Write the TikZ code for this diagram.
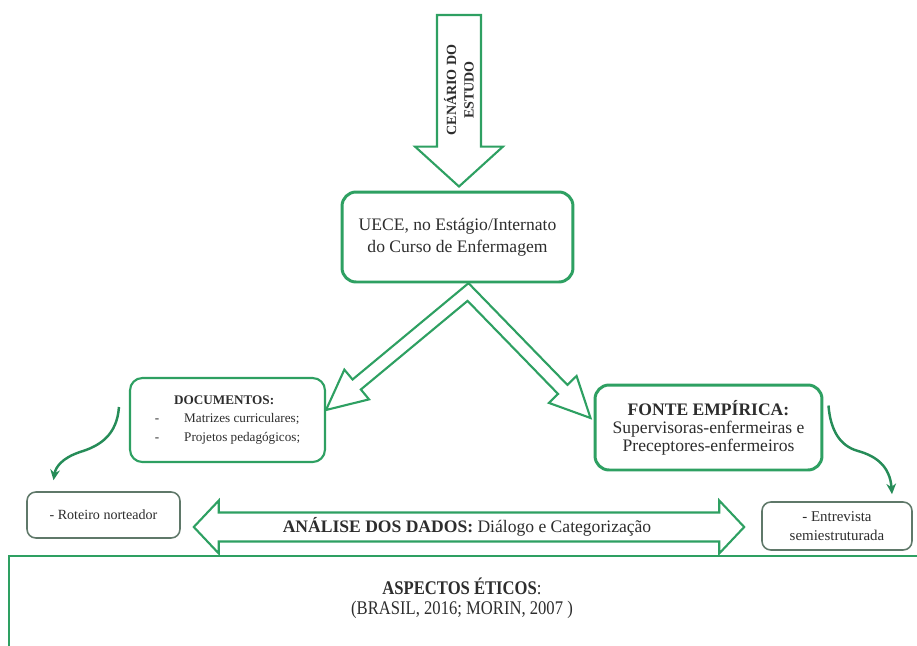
\documentclass[tikz,border=0pt]{standalone}
\usepackage{fontspec}
\setmainfont{Liberation Serif}
\newfontfamily\narrowserif[FakeStretch=0.86]{Liberation Serif}
\usetikzlibrary{calc,arrows.meta}

\definecolor{boxgreen}{RGB}{46,160,98}
\definecolor{darkgreen}{RGB}{38,140,88}
\definecolor{graybox}{RGB}{95,120,105}
\definecolor{txtgray}{RGB}{45,45,45}

% hollow block arrow: tail, tip, shaft half width, head half width, head length
\newcommand{\hollowarrow}[5]{%
  \coordinate (habase) at ($(#2)!#5!(#1)$);
  \draw[block] ($(#1)!#3!90:(#2)$) -- ($(habase)!#3!90:(#2)$) -- ($(habase)!#4!90:(#2)$) -- (#2)
    -- ($(habase)!#4!-90:(#2)$) -- ($(habase)!#3!-90:(#2)$) -- ($(#1)!#3!-90:(#2)$) -- cycle;}

\begin{document}
\begin{tikzpicture}[x=0.02cm,y=-0.02cm,text=txtgray,
  main box/.style={draw=boxgreen,line width=1.7pt,rounded corners=8pt,fill=white,align=center},
  side box/.style={draw=boxgreen,line width=1.2pt,rounded corners=7pt,fill=white,align=left},
  note box/.style={draw=graybox,line width=0.9pt,rounded corners=5pt,fill=white,align=center},
  block/.style={draw=boxgreen,line width=1.2pt,fill=white,line join=miter},
  bend arrow/.style={draw=darkgreen,line width=1.4pt,-{Stealth[length=6pt,width=5.5pt]}}]

  \clip (0,0) rectangle (917,646);

  % boxes
  \node[main box,minimum width=4.62cm,minimum height=1.8cm,font=\fontsize{10}{12.5}\selectfont]
    (uece) at (457.5,237) {UECE, no Estágio/Internato\\do Curso de Enfermagem};
  \node[side box,minimum width=3.9cm,minimum height=1.68cm,font=\fontsize{7.5}{10.5}\selectfont]
    (docs) at (227.5,420) {\hspace*{11pt}\textbf{DOCUMENTOS:}\\
      -\hspace{1.9em}Matrizes curriculares;\\-\hspace{1.9em}Projetos pedagógicos;};
  \node[note box,minimum width=3.06cm,minimum height=0.92cm,font=\fontsize{8}{10}\selectfont]
    (roteiro) at (103.5,515) {- Roteiro norteador};
  \node[main box,minimum width=4.54cm,minimum height=1.7cm,font=\fontsize{10}{10.3}\selectfont]
    (fonte) at (708.5,427.5) {\textbf{FONTE EMPÍRICA:}\\Supervisoras-enfermeiras e\\Preceptores-enfermeiros};
  \node[note box,minimum width=3cm,minimum height=0.96cm,font=\fontsize{8.5}{11}\selectfont]
    (entrev) at (837,526) {- Entrevista\\semiestruturada};

  % top arrow
  \coordinate (cenario) at (459,15);
  \hollowarrow{cenario}{$(uece.north)+(1.5,-4)$}{12.5pt}{25pt}{22.7pt}
  \node[rotate=90,align=center,font=\bfseries\fontsize{8}{10}\selectfont]
    (cenariotxt) at (459,90) {CENÁRIO DO\\ESTUDO};

  % split arrows
  \coordinate (vtop) at ($(uece.south)+(10.5,8.5)$);
  \coordinate (ltip) at ($(docs.east)+(0,-10)$);
  \coordinate (rtip) at ($(fonte.west)+(-3,-9.5)$);
  \foreach \s/\t/\o/\i in {l/ltip/-90/90, r/rtip/90/-90} {
    \coordinate (\s b) at ($(\t)!22.7pt!(vtop)$);
    \coordinate (\s o1) at ($(vtop)!3.7pt!\o:(\t)$);
    \coordinate (\s o2) at ($(\s b)!3.7pt!\o:(\t)$);
    \coordinate (\s ob) at ($(\s b)!11pt!\o:(\t)$);
    \coordinate (\s i1) at ($(vtop)!3.7pt!\i:(\t)$);
    \coordinate (\s i2) at ($(\s b)!3.7pt!\i:(\t)$);
    \coordinate (\s ib) at ($(\s b)!11pt!\i:(\t)$);
  }
  \coordinate (vout) at (intersection of lo1--lo2 and ro1--ro2);
  \coordinate (vin) at (intersection of li1--li2 and ri1--ri2);
  \draw[block] (vout) -- (lo2) -- (lob) -- (ltip) -- (lib) -- (li2) -- (vin)
    -- (ri2) -- (rib) -- (rtip) -- (rob) -- (ro2) -- cycle;

  % curved arrows
  \draw[bend arrow] ($(docs.west)+(-10,-13)$) .. controls +(-2,28) and +(20,-6) .. (80,452)
    .. controls +(-18,6) and +(2,-13) .. ($(roteiro.north)+(-50,-11)$);
  \draw[bend arrow] ($(fonte.east)+(5,-22)$) .. controls +(2,25) and +(-18,-5) .. (858,451)
    .. controls +(18,5) and +(-2,-28) .. ($(entrev.north)+(55,-7)$);

  % double arrow
  \coordinate (dleft) at ($(roteiro.east)+(13,12)$);
  \coordinate (dright) at ($(entrev.west)+(-17,1)$);
  \draw[block] (dleft) -- ++(25,-26.5) -- ++(0,12) -- ($(dright)+(-25,-14.5)$) -- ++(0,-12)
    -- (dright) -- ++(-25,26.5) -- ++(0,-12) -- ($(dleft)+(25,14.5)$) -- ++(0,12) -- cycle;
  \node[font=\fontsize{10}{12}\selectfont] (analise) at (467,527)
    {\textbf{ANÁLISE DOS DADOS:} Diálogo e Categorização};

  % ethics
  \draw[boxgreen,line width=1.7pt] (9,556) rectangle (930,700);
  \node[align=center,font=\narrowserif\fontsize{11}{11.5}\selectfont] (eticos) at (462,598)
    {\textbf{ASPECTOS ÉTICOS}:\\(BRASIL, 2016; MORIN, 2007 )};
\end{tikzpicture}
\end{document}
